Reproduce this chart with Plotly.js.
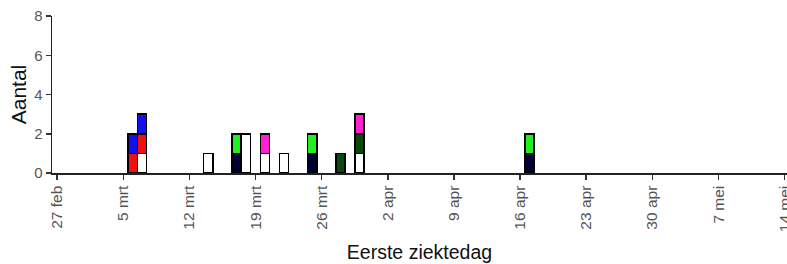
<!DOCTYPE html>
<html>
<head>
<meta charset="utf-8">
<script src="https://cdn.plot.ly/plotly-3.0.1.min.js"></script>
<style>html,body{margin:0;padding:0;background:#fff;}#chart{width:787px;height:264px;}</style>
</head>
<body>
<div id="chart"></div>
<script>
// Dates of first day of illness
const dates = ["2020-03-06","2020-03-07","2020-03-14","2020-03-17","2020-03-18","2020-03-20","2020-03-22","2020-03-25","2020-03-28","2020-03-30","2020-04-17"];
// Series (stack order bottom -> top)
const white   = [0,1,1,0,2,1,1,0,0,1,0];
const red     = [1,1,0,0,0,0,0,0,0,0,0];
const navy    = [0,0,0,1,0,0,0,1,0,0,1];
const dkgreen = [0,0,0,0,0,0,0,0,1,1,0];
const blue    = [1,1,0,0,0,0,0,0,0,0,0];
const green   = [0,0,0,1,0,0,0,1,0,0,1];
const magenta = [0,0,0,0,0,1,0,0,0,1,0];
const seriesNames = ["wit","rood","donkerblauw","donkergroen","blauw","groen","roze"];
const seriesColors = ["#ffffff","#f01010","#000033","#0a4a0a","#1010f0","#22ee22","#ff22cc"];
// Tick labels
const tickDates = ["2020-02-27","2020-03-05","2020-03-12","2020-03-19","2020-03-26","2020-04-02","2020-04-09","2020-04-16","2020-04-23","2020-04-30","2020-05-07","2020-05-14"];
const tickLabels = ["27 feb","5 mrt","12 mrt","19 mrt","26 mrt","2 apr","9 apr","16 apr","23 apr","30 apr","7 mei","14 mei"];

const allSeries = [white, red, navy, dkgreen, blue, green, magenta];
const traces = allSeries.map((vals, i) => {
  const x = [], y = [];
  vals.forEach((v, j) => { if (v > 0) { x.push(dates[j]); y.push(v); } });
  return {
    type: "bar", x: x, y: y, name: seriesNames[i],
    width: 86400000 * 0.97,
    marker: {color: seriesColors[i], line: {color: "#000", width: 1.5}},
    hoverinfo: "x+y+name"
  };
});

const layout = {
  width: 787, height: 264,
  margin: {l: 52, r: 0, t: 16, b: 91},
  barmode: "stack", bargap: 0,
  showlegend: false,
  paper_bgcolor: "#fff", plot_bgcolor: "#fff",
  font: {family: "Liberation Sans, Arial, sans-serif", color: "#555"},
  xaxis: {
    type: "date",
    range: ["2020-02-26 11:00", "2020-05-14 06:00"],
    tickvals: tickDates, ticktext: tickLabels,
    tickangle: -90,
    ticklabeloverflow: "allow",
    tickfont: {size: 15.5, color: "#555"},
    ticks: "outside", ticklen: 5, tickwidth: 1.5, tickcolor: "#333",
    showline: true, linecolor: "#222", linewidth: 1.5,
    showgrid: false, zeroline: false,
    title: {text: "Eerste ziektedag", font: {size: 19.5, color: "#111"}, standoff: 14}
  },
  yaxis: {
    range: [0, 8],
    tickvals: [0, 2, 4, 6, 8],
    tickfont: {size: 15, color: "#555"},
    ticks: "outside", ticklen: 5, tickwidth: 1.5, tickcolor: "#333",
    showline: true, linecolor: "#222", linewidth: 1.5,
    showgrid: false, zeroline: false,
    title: {text: "Aantal", font: {size: 21, color: "#111"}, standoff: 2}
  }
};

Plotly.newPlot("chart", traces, layout, {displayModeBar: false, staticPlot: true});
</script>
</body>
</html>
